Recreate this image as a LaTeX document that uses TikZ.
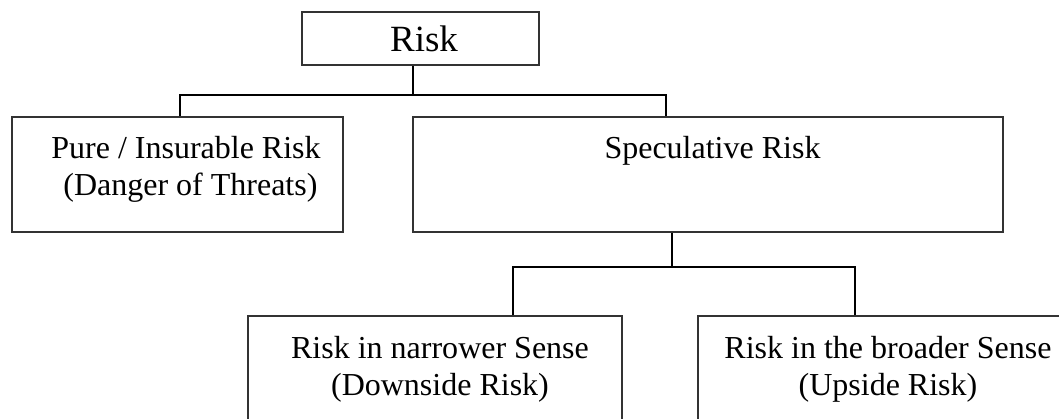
\documentclass[tikz,border=0pt]{standalone}
\usepackage{fontspec}
\setmainfont{Liberation Serif}
\begin{document}
\begin{tikzpicture}[x=1pt,y=-1pt,
  box/.style={draw=black!80,line width=1.2pt,rectangle,inner sep=0pt},
  txt/.style={inner sep=0pt,align=center,anchor=base,font=\fontsize{32}{37}\selectfont},
  bigtxt/.style={inner sep=0pt,anchor=base,font=\fontsize{37}{42}\selectfont},
  conn/.style={draw=black,line width=1.5pt}]
\useasboundingbox (0,0) rectangle (1059,418);
\clip (0,0) rectangle (1059,418);
% boxes
\node[box,minimum width=237pt,minimum height=53pt] (risk) at (420.5,38.5) {};
\node[box,minimum width=331pt,minimum height=115pt] (pure) at (177.5,174.5) {};
\node[box,minimum width=590pt,minimum height=115pt] (spec) at (708,174.5) {};
\node[box,minimum width=374pt,minimum height=160pt] (narrow) at (435,396) {};
\node[box,minimum width=384pt,minimum height=160pt] (broad) at (890,396) {};
% texts
\node[bigtxt] (risktxt) at (424,51) {Risk};
\node[txt] (puretxt) at (186,195) {Pure / Insurable Risk\\\hphantom{i}(Danger of Threats)};
\node[txt] (spectxt) at (712.5,158) {Speculative Risk};
\node[txt] (narrowtxt) at (440,395) {Risk in narrower Sense\\(Downside Risk)};
\node[txt] (broadtxt) at (888,395) {Risk in the broader Sense\\(Upside Risk)};
% connectors
\coordinate (j1) at (413,95);
\coordinate (b1) at (180,95);
\coordinate (b2) at (666,95);
\draw[conn] (j1 |- risk.south) -- (j1);
\draw[conn] (b1 |- pure.north) -- (b1) -- (b2) -- (b2 |- spec.north);
\coordinate (j2) at (672,267);
\coordinate (c1) at (513,267);
\coordinate (c2) at (855,267);
\draw[conn] (j2 |- spec.south) -- (j2);
\draw[conn] (c1 |- narrow.north) -- (c1) -- (c2) -- (c2 |- broad.north);
\end{tikzpicture}
\end{document}
